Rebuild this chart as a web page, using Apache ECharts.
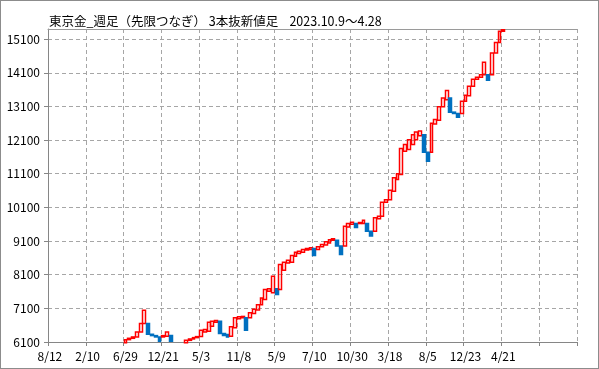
<!DOCTYPE html>
<html><head><meta charset="utf-8">
<script src="https://cdn.jsdelivr.net/npm/echarts@6/dist/echarts.min.js"></script>
<style>
html,body{margin:0;padding:0;background:#fff}
#wrap{position:relative;width:599px;height:369px}
#c{width:599px;height:369px}
#frame{position:absolute;left:0;top:0;width:599px;height:369px;box-sizing:border-box;border:1px solid #8c8c8c;pointer-events:none}
</style>
</head><body><div id="wrap"><div id="c"></div><div id="frame"></div></div>
<script>
// tick labels every 10 bricks
const tickLabels = ['8/12','2/10','6/29','12/21','5/3','11/8','5/9','7/10','10/30','3/18','8/5','12/23','4/21','',''];
const brickSlots = 140;
const firstBrick = 20;   // earlier bricks lie below the 6100 floor
// open / close of each brick (null = below the visible range)
const brickOpen = [
 6080,6170,6210,6250,6400,6650,6650,6330,6290,6250,
 6250,6270,6290,null,null,null,6080,6150,6190,6230,
 6260,6400,6420,6570,6690,6720,6350,6320,6270,6520,
 6790,6820,6820,6820,6950,7050,7210,7360,7610,7560,
 7680,7660,8230,8450,8470,8650,8730,8770,8830,8850,
 8880,8850,8930,8980,9045,9120,9120,8950,8950,9520,
 9600,9620,9620,9620,9620,9390,9390,9760,9840,10250,
 10330,10580,10930,11075,11770,11820,11970,12110,12230,12260,
 11740,11740,12580,12690,13090,13300,13350,12930,12890,12890,
 13250,13420,13700,13910,13970,14040,14040,14040,14690,15000,
 15330
];
const brickClose = [
 6170,6210,6250,6400,6650,7040,6330,6290,6250,6120,
 6290,6400,6120,null,null,null,6150,6190,6230,6260,
 6450,6470,6690,6720,6740,6350,6290,6250,6550,6820,
 6850,6860,6450,6970,7070,7210,7410,7660,7680,8050,
 7510,8400,8470,8530,8670,8770,8800,8850,8880,8900,
 8670,8930,9000,9080,9140,9165,8950,8700,9540,9620,
 9660,9500,9650,9720,9390,9250,9790,9840,10250,10330,
 10610,10980,11100,11850,11970,12110,12260,12340,12370,11740,
 11470,12600,12710,13090,13350,13570,12930,12890,12780,13250,
 13430,13700,13910,13970,14040,14410,13880,14690,15000,15330,
 15380
];

const cats = [];
const data = [];
for (let i = 0; i < brickSlots; i++) {
  cats.push(String(i));
  const k = i - firstBrick;
  const o = (k >= 0 && k < brickOpen.length) ? brickOpen[k] : null;
  const c = (k >= 0 && k < brickClose.length) ? brickClose[k] : null;
  if (o === null || c === null) data.push(['-','-','-','-']);
  else data.push([o, c, Math.min(o, c), Math.max(o, c)]);
}

const FONT = '"Noto Sans CJK JP", "Noto Sans", sans-serif';
const chart = echarts.init(document.getElementById('c'), null, {renderer:'canvas'});
chart.setOption({
  animation: false,
  backgroundColor: '#fff',
  textStyle: {fontFamily: FONT},
  title: {
    text: '{a|東京金_週足（先限つなぎ） 3本抜新値足}{b|    2023.10.9～4.28}',
    left: 44, top: 10,
    textStyle: {
      fontWeight: 'normal',
      rich: {
        a: {fontSize: 12.5, color: '#000', fontFamily: FONT, fontWeight: 'normal'},
        b: {fontSize: 12.5, color: '#000', fontFamily: FONT, fontWeight: 'normal'}
      }
    }
  },
  grid: {left: 48, right: 22, top: 29, bottom: 27, show: false},
  xAxis: [{
    type: 'category', data: cats, boundaryGap: true,
    axisLine: {show: true, lineStyle: {color: '#868686', width: 1}},
    axisTick: {show: true, interval: 9, length: 4, lineStyle: {color: '#868686'}},
    axisLabel: {
      interval: 9, color: '#000', fontSize: 12, margin: 8, fontFamily: FONT,
      formatter: (v, idx) => tickLabels[Math.round(idx / 10)] || ''
    },
    splitLine: {show: true, interval: 9, lineStyle: {color: '#a6a6a6', type: [4, 3], width: 1}}
  }, {
    type: 'category', data: cats, boundaryGap: true, position: 'top',
    axisLine: {show: true, lineStyle: {color: '#9a9a9a', width: 1}},
    axisTick: {show: false}, axisLabel: {show: false}, splitLine: {show: false}
  }],
  yAxis: {
    type: 'value', min: 6100, max: 15400, interval: 1000,
    axisLine: {show: true, lineStyle: {color: '#868686', width: 1}},
    axisTick: {show: true, length: 4, lineStyle: {color: '#868686'}},
    axisLabel: {color: '#000', fontSize: 12, margin: 8, showMaxLabel: false, fontFamily: FONT,
      formatter: v => String(v)},
    splitLine: {show: true, lineStyle: {color: '#a6a6a6', type: [4, 3], width: 1}}
  },
  series: [{
    type: 'candlestick',
    data: data,
    barWidth: 3.4,
    clip: true,
    silent: true,
    itemStyle: {
      color: 'rgba(255,255,255,0)', color0: '#0070C0',
      borderColor: '#FF0000', borderColor0: '#0070C0',
      borderWidth: 1.5
    }
  }]
});
</script></body></html>
